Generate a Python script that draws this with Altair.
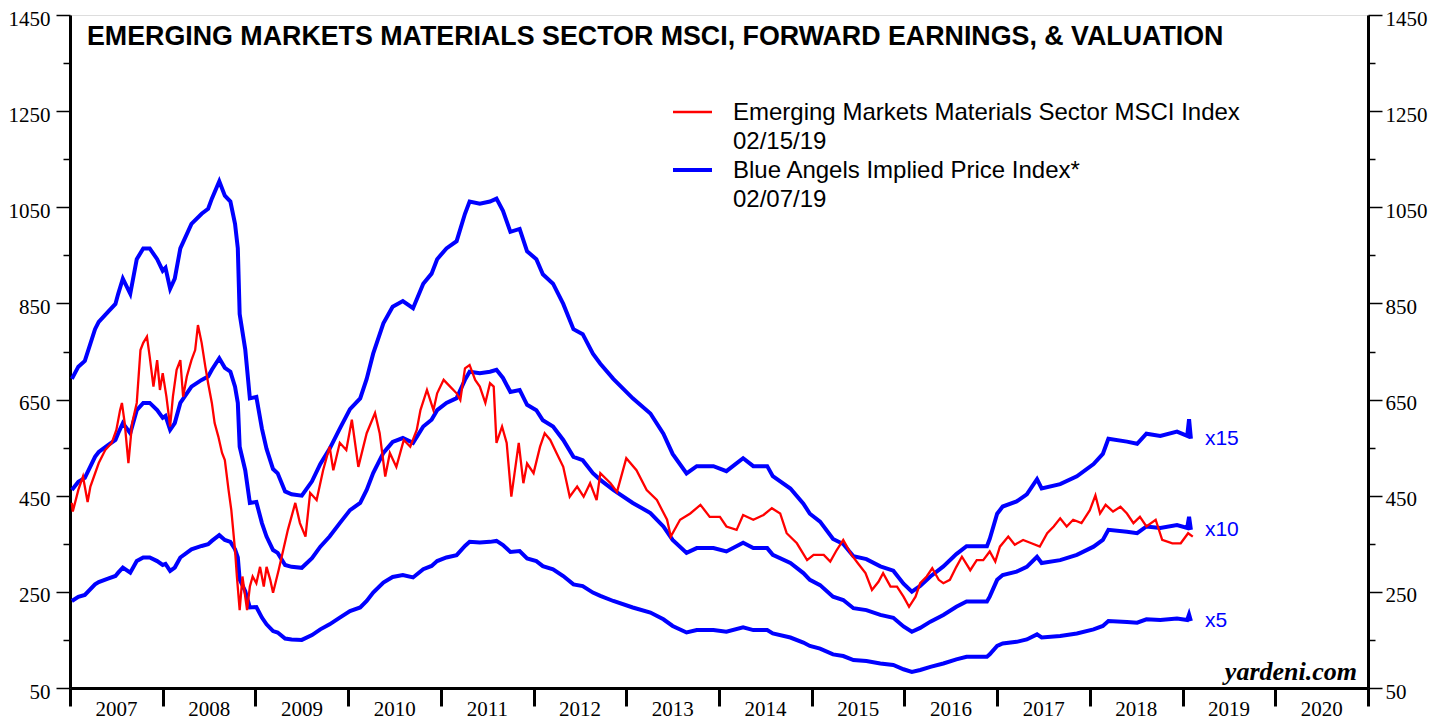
import altair as alt
import pandas as pd

# Blue Angels implied price index (x10 multiple), decimal years
years_blue = [2007.02, 2007.09, 2007.16, 2007.27, 2007.31, 2007.41, 2007.49, 2007.52, 2007.57, 2007.65,
              2007.72, 2007.79, 2007.86, 2007.94, 2008.00, 2008.03, 2008.08, 2008.13, 2008.19, 2008.31,
              2008.42, 2008.49, 2008.53, 2008.61, 2008.67, 2008.73, 2008.78, 2008.81, 2008.83, 2008.89,
              2008.94, 2009.01, 2009.07, 2009.12, 2009.19, 2009.24, 2009.32, 2009.39, 2009.50, 2009.61,
              2009.70, 2009.80, 2009.91, 2010.02, 2010.13, 2010.20, 2010.27, 2010.38, 2010.48, 2010.59,
              2010.70, 2010.81, 2010.90, 2010.96, 2011.06, 2011.17, 2011.26, 2011.31, 2011.42, 2011.53,
              2011.60, 2011.67, 2011.75, 2011.85, 2011.93, 2012.03, 2012.10, 2012.21, 2012.32, 2012.43,
              2012.53, 2012.64, 2012.72, 2012.86, 2013.07, 2013.26, 2013.40, 2013.50, 2013.65, 2013.76,
              2013.94, 2014.08, 2014.26, 2014.37, 2014.52, 2014.58, 2014.77, 2014.91, 2014.98, 2015.09,
              2015.23, 2015.34, 2015.45, 2015.59, 2015.74, 2015.88, 2015.99, 2016.08, 2016.17, 2016.28,
              2016.42, 2016.56, 2016.67, 2016.89, 2016.92, 2017.00, 2017.06, 2017.21, 2017.32, 2017.43,
              2017.48, 2017.68, 2017.86, 2018.04, 2018.14, 2018.20, 2018.40, 2018.51, 2018.61, 2018.76,
              2018.94, 2019.05, 2019.07, 2019.09]
implied_x10 = [462, 479, 487, 531, 541, 555, 566, 580, 601, 580,
               628, 643, 643, 628, 612, 616, 587, 601, 643, 677,
               691, 698, 712, 736, 716, 708, 677, 643, 552, 503,
               435, 437, 393, 365, 337, 331, 306, 302, 300, 320,
               344, 365, 393, 420, 435, 462, 497, 539, 562, 570,
               560, 594, 608, 628, 643, 653, 691, 708, 705, 708,
               712, 695, 666, 670, 639, 628, 607, 594, 566, 531,
               524, 497, 483, 462, 435, 414, 386, 358, 331, 341,
               341, 334, 352, 341, 341, 327, 310, 289, 275, 264,
               240, 233, 216, 212, 202, 196, 178, 167, 175, 188,
               202, 219, 230, 230, 240, 275, 285, 292, 302, 323,
               310, 316, 327, 344, 358, 379, 375, 372, 386, 383,
               389, 383, 406, 379]

# Emerging Markets Materials Sector MSCI index
years_red = [2007.02, 2007.03, 2007.09, 2007.14, 2007.19, 2007.22, 2007.31, 2007.38, 2007.45, 2007.50,
             2007.54, 2007.56, 2007.59, 2007.63, 2007.67, 2007.72, 2007.76, 2007.79, 2007.83, 2007.86,
             2007.90, 2007.94, 2007.97, 2008.00, 2008.04, 2008.08, 2008.11, 2008.15, 2008.19, 2008.22,
             2008.26, 2008.31, 2008.35, 2008.38, 2008.42, 2008.46, 2008.49, 2008.53, 2008.56, 2008.60,
             2008.64, 2008.67, 2008.71, 2008.74, 2008.78, 2008.80, 2008.83, 2008.86, 2008.91, 2008.94,
             2008.97, 2009.01, 2009.05, 2009.09, 2009.12, 2009.16, 2009.19, 2009.25, 2009.30, 2009.35,
             2009.43, 2009.48, 2009.54, 2009.59, 2009.66, 2009.73, 2009.80, 2009.84, 2009.91, 2009.98,
             2010.04, 2010.11, 2010.20, 2010.29, 2010.34, 2010.40, 2010.45, 2010.52, 2010.60, 2010.67,
             2010.74, 2010.78, 2010.85, 2010.92, 2010.96, 2011.03, 2011.10, 2011.17, 2011.21, 2011.26,
             2011.31, 2011.37, 2011.42, 2011.48, 2011.53, 2011.57, 2011.60, 2011.66, 2011.71, 2011.76,
             2011.84, 2011.89, 2011.93, 2012.00, 2012.07, 2012.12, 2012.18, 2012.25, 2012.32, 2012.39,
             2012.47, 2012.54, 2012.61, 2012.68, 2012.72, 2012.83, 2012.90, 2013.00, 2013.11, 2013.22,
             2013.33, 2013.44, 2013.48, 2013.58, 2013.69, 2013.80, 2013.90, 2014.01, 2014.08, 2014.19,
             2014.26, 2014.37, 2014.48, 2014.57, 2014.66, 2014.73, 2014.84, 2014.95, 2015.02, 2015.13,
             2015.20, 2015.27, 2015.34, 2015.43, 2015.50, 2015.58, 2015.65, 2015.72, 2015.77, 2015.85,
             2015.92, 2015.99, 2016.05, 2016.12, 2016.17, 2016.24, 2016.30, 2016.37, 2016.42, 2016.49,
             2016.56, 2016.62, 2016.71, 2016.78, 2016.85, 2016.92, 2016.98, 2017.03, 2017.12, 2017.19,
             2017.28, 2017.37, 2017.46, 2017.54, 2017.61, 2017.68, 2017.75, 2017.82, 2017.91, 2018.00,
             2018.06, 2018.11, 2018.17, 2018.25, 2018.33, 2018.40, 2018.47, 2018.54, 2018.61, 2018.71,
             2018.78, 2018.89, 2018.98, 2019.06, 2019.11]
msci = [435, 417, 462, 490, 437, 469, 518, 545, 560, 587,
        628, 643, 601, 518, 601, 643, 753, 768, 781, 739,
        677, 732, 670, 705, 656, 594, 656, 712, 732, 656,
        698, 732, 753, 805, 768, 718, 684, 643, 601, 573,
        539, 524, 462, 420, 337, 282, 212, 282, 212, 261,
        282, 268, 302, 261, 302, 275, 248, 295, 337, 379,
        435, 393, 365, 456, 441, 503, 552, 503, 560, 545,
        608, 510, 580, 622, 580, 490, 539, 510, 566, 552,
        587, 628, 670, 628, 663, 691, 677, 663, 649, 715,
        722, 691, 677, 643, 684, 677, 560, 594, 560, 448,
        560, 476, 517, 497, 552, 580, 566, 538, 510, 448,
        469, 448, 476, 441, 497, 476, 458, 528, 503, 462,
        441, 400, 365, 400, 413, 431, 406, 406, 386, 379,
        410, 400, 410, 424, 413, 372, 351, 316, 327, 327,
        313, 337, 358, 327, 309, 289, 254, 271, 289, 261,
        261, 240, 219, 240, 268, 282, 299, 275, 268, 275,
        302, 323, 295, 316, 316, 334, 313, 344, 365, 348,
        358, 351, 344, 372, 386, 403, 386, 400, 393, 420,
        451, 413, 431, 417, 427, 413, 393, 406, 386, 400,
        358, 351, 351, 372, 365]

multiples = [5, 10, 15]
multiple_labels = ["x5", "x10", "x15"]
year_ticks = list(range(2007, 2022))
y_ticks = list(range(50, 1451, 100))

title_text = "EMERGING MARKETS MATERIALS SECTOR MSCI, FORWARD EARNINGS, & VALUATION"
legend_red = "Emerging Markets Materials Sector MSCI Index\n02/15/19"
legend_blue = "Blue Angels Implied Price Index*\n02/07/19"

BLUE = "#0000FF"
RED = "#FF0000"
BG = "#FFFFE6"

rows = []
for m, lab in zip(multiples, multiple_labels):
    for t, v in zip(years_blue, implied_x10):
        rows.append({"t": t, "v": v * m / 10.0, "series": lab})
blue_df = pd.DataFrame(rows)
red_df = pd.DataFrame({"t": years_red, "v": msci})
end_df = blue_df.groupby("series", as_index=False).last()

xscale = alt.Scale(domain=[2007, 2021], nice=False, zero=False)
yscale = alt.Scale(domain=[50, 1450], nice=False, zero=False)

x_axis = alt.Axis(values=year_ticks, labelExpr="datum.value < 2021 ? '' + datum.value : ''",
                  labelOffset=46, labelAlign="center", labelFlush=False, labelOverlap=False,
                  tickSize=18, tickWidth=3, tickColor="black", domainWidth=3, domainColor="black",
                  labelFont="Liberation Serif", labelFontSize=21, labelColor="black",
                  labelPadding=-8, labelBaseline="top", grid=False, title=None)


def y_axis(orient, pad):
    return alt.Axis(values=y_ticks, orient=orient,
                    labelExpr="(datum.value - 50) % 200 == 0 ? '' + datum.value : ''",
                    tickSize={"condition": {"test": "(datum.value - 50) % 200 == 0", "value": 14}, "value": 7},
                    tickWidth=1.5, tickColor="black", domainWidth=3, domainColor="black",
                    labelFont="Liberation Serif", labelFontSize=21, labelColor="black",
                    labelPadding=pad, labelOffset=4, labelOverlap=False, labelFlush=False,
                    grid=False, title=None)


blue_lines = alt.Chart(blue_df).mark_line(color=BLUE, strokeWidth=4).encode(
    x=alt.X("t:Q", scale=xscale, axis=x_axis),
    y=alt.Y("v:Q", scale=yscale, axis=y_axis("left", 6)),
    detail="series:N",
)

red_line = alt.Chart(red_df).mark_line(color=RED, strokeWidth=2.3).encode(
    x=alt.X("t:Q", scale=xscale, axis=x_axis),
    y=alt.Y("v:Q", scale=yscale, axis=y_axis("right", 3)),
)

end_labels = alt.Chart(end_df).mark_text(color=BLUE, font="Liberation Sans", fontSize=21,
                                         align="left", baseline="middle", dx=14).encode(
    x=alt.X("t:Q", scale=xscale, axis=x_axis),
    y=alt.Y("v:Q", scale=yscale, axis=None),
    text="series:N",
)

title = alt.Chart(pd.DataFrame({"s": [title_text]})).mark_text(
    font="Liberation Sans", fontWeight="bold", fontSize=26.8, color="black",
    align="left", baseline="middle").encode(x=alt.value(17), y=alt.value(22), text="s:N")

leg_red_rule = alt.Chart(pd.DataFrame({"s": ["r"]})).mark_rule(color=RED, strokeWidth=2.3).encode(
    x=alt.value(603), x2=alt.value(642), y=alt.value(97))
leg_blue_rule = alt.Chart(pd.DataFrame({"s": ["b"]})).mark_rule(color=BLUE, strokeWidth=4).encode(
    x=alt.value(603), x2=alt.value(642), y=alt.value(155))
leg_red_text = alt.Chart(pd.DataFrame({"s": [legend_red]})).mark_text(
    font="Liberation Sans", fontSize=24, color="black", align="left", baseline="alphabetic",
    lineBreak="\n", lineHeight=29).encode(x=alt.value(663), y=alt.value(105), text="s:N")
leg_blue_text = alt.Chart(pd.DataFrame({"s": [legend_blue]})).mark_text(
    font="Liberation Sans", fontSize=24, color="black", align="left", baseline="alphabetic",
    lineBreak="\n", lineHeight=29).encode(x=alt.value(663), y=alt.value(163), text="s:N")

credit = alt.Chart(pd.DataFrame({"s": ["yardeni.com"]})).mark_text(
    font="Liberation Serif", fontSize=26, fontWeight="bold", fontStyle="italic", color="black",
    align="right", baseline="alphabetic").encode(x=alt.value(1287), y=alt.value(665), text="s:N")

chart = alt.layer(
    blue_lines, red_line, end_labels, title, leg_red_rule, leg_blue_rule,
    leg_red_text, leg_blue_text, credit
).resolve_axis(y="independent").properties(
    width=1298, height=673,
    autosize=alt.AutoSizeParams(type="none"),
    padding={"left": 62, "top": 7, "right": 72, "bottom": 31},
).configure_view(fill=BG, stroke="black", strokeWidth=2.5).configure(background="white")

chart.save("out.html", embed_options={"renderer": "svg", "actions": False})
